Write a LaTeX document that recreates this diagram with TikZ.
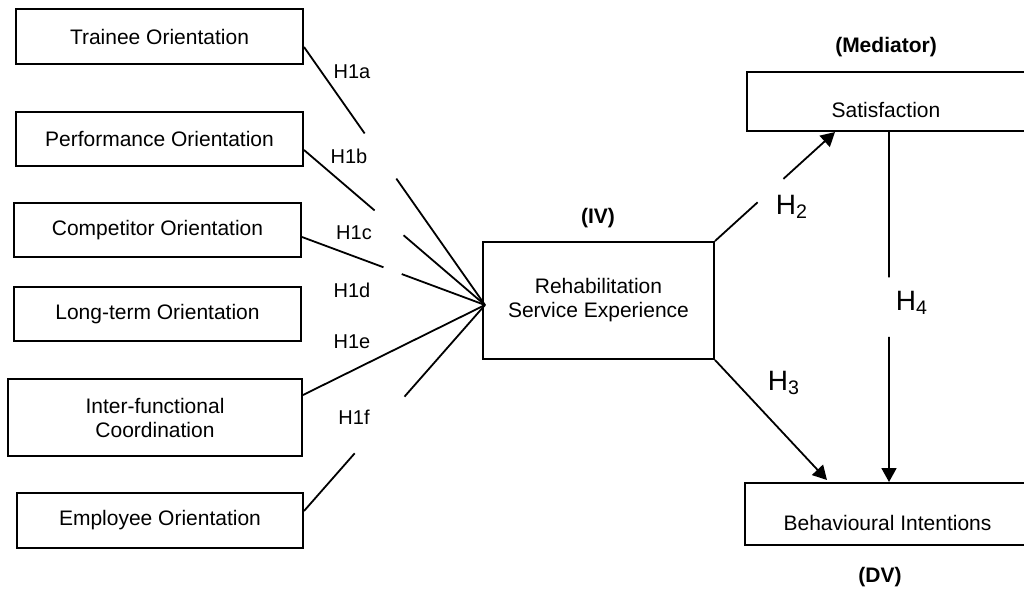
\documentclass[tikz,border=0pt]{standalone}
\usepackage{fontspec}
\setmainfont{Liberation Sans}
\usetikzlibrary{arrows.meta, calc, positioning}

\tikzset{
  factor/.style={draw, line width=1pt, inner sep=0pt, align=center, font=\fontsize{10.5}{12}\selectfont},
  droptext/.style={text height=16pt, text depth=0pt},
  hyp/.style={inner sep=1pt, font=\fontsize{10}{12}\selectfont},
  hypbig/.style={inner sep=1pt, font=\fontsize{14}{16}\selectfont},
  role/.style={inner sep=1pt, font=\fontsize{10.5}{12}\selectfont\bfseries},
  link/.style={line width=0.9pt},
  arrowlink/.style={line width=0.9pt, -{Triangle[length=7pt,width=7.5pt]}}
}

\begin{document}
\begin{tikzpicture}[x=0.5pt, y=-0.5pt]
\useasboundingbox (0,0) rectangle (1024,606);

% orientation factors
\node[factor, minimum width=143.5pt, minimum height=27.5pt] (trainee) at (159.5,36.5) {Trainee Orientation};
\node[factor, minimum width=143.5pt, minimum height=27pt] (perform) at (159.5,139) {Performance Orientation};
\node[factor, minimum width=143.5pt, minimum height=27pt] (compet) at (157.5,230) {Competitor Orientation};
\node[factor, minimum width=143.5pt, minimum height=27pt] (longterm) at (157.5,314) {Long-term Orientation};
\node[factor, minimum width=147pt, minimum height=38.5pt] (interfn) at (155,417.5) {Inter-functional\\Coordination};
\node[factor, minimum width=143pt, minimum height=27.5pt] (employee) at (160,520.5) {Employee Orientation};

% IV, mediator, DV
\node[factor, minimum width=115.5pt, minimum height=58.5pt] (rse) at (598.5,300.5) {Rehabilitation\\Service Experience};
\node[factor, droptext, minimum width=139pt, minimum height=29.5pt] (satis) at (886,101.5) {Satisfaction};
\node[factor, droptext, minimum width=142.5pt, minimum height=31pt] (behav) at (887.5,514) {Behavioural Intentions};

\node[role] (ivlbl) at (598,218) {(IV)};
\node[role] (medlbl) at (886,47) {(Mediator)};
\node[role] (dvlbl) at (880,577) {(DV)};

% hypothesis labels
\node[hyp] (h1a) at (352,72) {H1a};
\node[hyp] (h1b) at (349,156) {H1b};
\node[hyp] (h1c) at (354,233) {H1c};
\node[hyp] (h1d) at (352,290) {H1d};
\node[hyp] (h1e) at (352,342) {H1e};
\node[hyp] (h1f) at (354,417) {H1f};
\node[hypbig] (h2) at (792,207) {H\textsubscript{2}};
\node[hypbig] (h3) at (784,383) {H\textsubscript{3}};
\node[hypbig] (h4) at (912,303) {H\textsubscript{4}};

% end points
\coordinate (hub) at (485,305);
\coordinate (trainee-out) at ([yshift=-5.25pt]trainee.east);
\coordinate (perform-out) at ([yshift=-5.5pt]perform.east);
\coordinate (compet-out) at ([yshift=-3.5pt]compet.east);
\coordinate (interfn-out) at ([yshift=11.25pt]interfn.east);
\coordinate (employee-out) at ([yshift=4.75pt]employee.east);
\coordinate (h2tip) at ([xshift=-25.5pt]satis.south);
\coordinate (h3tip) at ([xshift=-30.25pt,yshift=1pt]behav.north);
\coordinate (h4top) at ([xshift=1.5pt]satis.south);
\coordinate (h4bot) at (h4top |- behav.north);

% H1 links, broken round the labels
\foreach \src/\cut/\resume in {trainee-out/0.335/0.51, perform-out/0.39/0.55, compet-out/0.445/0.545, employee-out/0.28/0.555}{
  \draw[link] (\src) -- ($(\src)!\cut!(hub)$);
  \draw[link] ($(\src)!\resume!(hub)$) -- (hub);
}
\draw[link] (interfn-out) -- (hub);

% H2, H3, H4
\draw[link] (rse.north east) -- ($(rse.north east)!0.355!(h2tip)$);
\draw[arrowlink] ($(rse.north east)!0.57!(h2tip)$) -- (h2tip);
\draw[arrowlink] (rse.south east) -- (h3tip);
\draw[link] (h4top) -- ($(h4top)!0.415!(h4bot)$);
\draw[arrowlink] ($(h4top)!0.585!(h4bot)$) -- (h4bot);
\end{tikzpicture}
\end{document}
